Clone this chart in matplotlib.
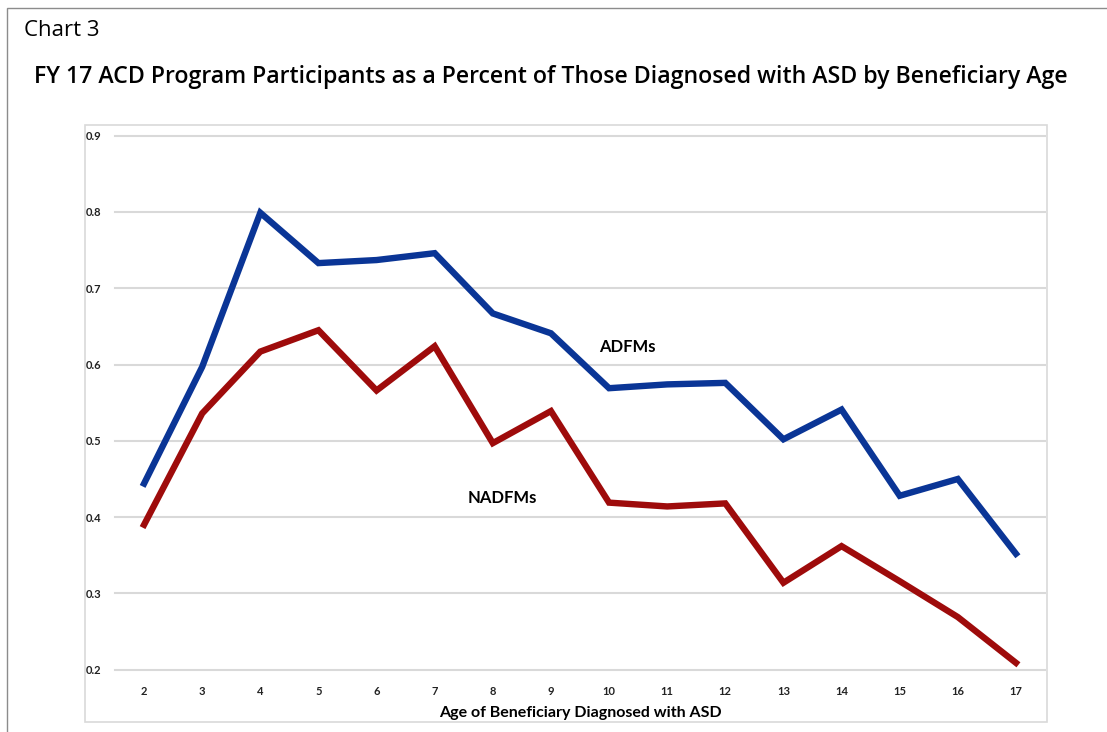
import matplotlib
matplotlib.use("Agg")
import matplotlib.pyplot as plt
from matplotlib.patches import Rectangle

# data
ages = [2, 3, 4, 5, 6, 7, 8, 9, 10, 11, 12, 13, 14, 15, 16, 17]
adfm = [0.444, 0.597, 0.799, 0.733, 0.737, 0.746, 0.667, 0.641, 0.569, 0.574,
        0.576, 0.502, 0.541, 0.428, 0.450, 0.352]
nadfm = [0.390, 0.536, 0.617, 0.645, 0.566, 0.624, 0.497, 0.539, 0.419, 0.414,
         0.418, 0.314, 0.362, 0.316, 0.269, 0.209]
yticks = [0.2, 0.3, 0.4, 0.5, 0.6, 0.7, 0.8, 0.9]

W, H = 1107, 732
plt.rcParams['font.family'] = ['Lato', 'DejaVu Sans']

fig = plt.figure(figsize=(W / 100, H / 100), dpi=100)

def fx(px):
    return px / W

def fy(py):
    return 1 - py / H

# outer frame and inner chart frame
fig.patches.append(Rectangle((fx(7), fy(745)), fx(1120) - fx(7), fy(8) - fy(745),
                             transform=fig.transFigure, fill=False,
                             edgecolor='#8c8c8c', linewidth=1.0))
fig.patches.append(Rectangle((fx(85), fy(722)), fx(1047) - fx(85), fy(125) - fy(722),
                             transform=fig.transFigure, fill=False,
                             edgecolor='#d9d9d9', linewidth=1.2))

fig.text(fx(24), fy(31), "Chart 3", fontsize=16, va='center', ha='left',
         family=['Open Sans', 'DejaVu Sans'])
fig.text(fx(551), fy(77),
         "FY 17 ACD Program Participants as a Percent of Those Diagnosed with ASD by Beneficiary Age",
         fontsize=16.7, va='center', ha='center', weight='semibold',
         family=['Open Sans', 'DejaVu Sans'])

ax = fig.add_axes([fx(115), fy(669.7), fx(1045) - fx(115), fy(135.7) - fy(669.7)])
ax.plot(ages, adfm, color='#0a3596', linewidth=4.6, solid_joinstyle='miter')
ax.plot(ages, nadfm, color='#9e0b0b', linewidth=4.6, solid_joinstyle='miter')

ax.set_xlim(1.5, 17.5)
ax.set_ylim(0.2, 0.9)
ax.set_xticks(ages)
ax.set_yticks(yticks)
ax.set_yticklabels([f"{v:.1f}" for v in yticks])
ax.grid(axis='y', color='#d9d9d9', linewidth=1.5)
ax.set_axisbelow(True)
for gl in ax.get_ygridlines():
    gl.set_clip_on(False)
for s in ax.spines.values():
    s.set_visible(False)
ax.tick_params(length=0, labelsize=8, colors='#222222')
ax.tick_params(axis='x', pad=12)
ax.tick_params(axis='y', pad=10)
for lab in ax.get_xticklabels() + ax.get_yticklabels():
    lab.set_fontweight('bold')

ax.set_xlabel("Age of Beneficiary Diagnosed with ASD", fontsize=11.5, weight='bold',
              labelpad=6)

ax.text(10.31, 0.623, "ADFMs", fontsize=12, weight='bold', ha='center', va='center')
ax.text(8.16, 0.425, "NADFMs", fontsize=12, weight='bold', ha='center', va='center')

fig.savefig("out.png", dpi=100)
